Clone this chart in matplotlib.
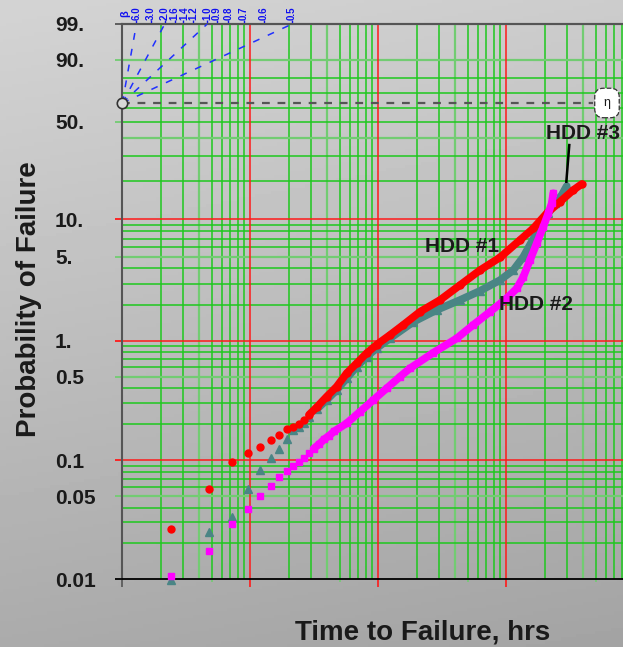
import numpy as np
import matplotlib
matplotlib.use("Agg")
import matplotlib.pyplot as plt
import matplotlib.transforms as mtransforms
from matplotlib.ticker import NullFormatter, NullLocator

plt.rcParams['font.family'] = ['Liberation Sans', 'DejaVu Sans']
plt.rcParams['font.weight'] = 'bold'

# --- data: time to failure (hrs) vs. % failed ---
hdd1_hrs = [24, 48, 72, 96, 120, 144, 168, 192, 216, 240, 264, 288,
            330, 395, 473, 566, 678, 812, 972, 1234, 1568, 2118, 3034, 4347,
            6237, 8930, 12790, 16250, 20680, 26270, 33380, 38820]
hdd1_pct = [0.0267, 0.057, 0.096, 0.114, 0.128, 0.149, 0.162, 0.182, 0.191, 0.201, 0.217, 0.241,
            0.278, 0.341, 0.414, 0.536, 0.65, 0.79, 0.93, 1.12, 1.36, 1.75, 2.19, 2.91,
            3.87, 4.92, 6.82, 8.47, 11.16, 13.76, 16.95, 18.82]

hdd2_hrs = [24, 48, 72, 96, 120, 144, 168, 192, 216, 240, 264, 288,
            312, 344, 378, 414, 453, 566, 719, 914, 1163, 1478, 1769,
            2675, 4098, 5521, 7460, 10070, 12060, 13580, 15310, 17280, 19450,
            21280, 22630, 23280]
hdd2_pct = [0.0107, 0.0173, 0.029, 0.039, 0.050, 0.061, 0.0717, 0.0815, 0.0897, 0.0964, 0.1035, 0.114,
            0.125, 0.136, 0.150, 0.161, 0.175, 0.204, 0.255, 0.320, 0.401, 0.502, 0.590,
            0.793, 1.05, 1.36, 1.75, 2.26, 2.73, 3.41, 4.68, 6.41, 8.73,
            11.16, 13.37, 16.0]

hdd3_hrs = [24, 48, 72, 96, 120, 144, 168, 192, 216, 240, 264, 288,
            330, 395, 473, 566, 678, 812, 972, 1234, 1877, 2859, 4347, 6237,
            8930, 11350, 13580, 15780, 18320, 21280, 23990, 27100, 29650]
hdd3_pct = [0.0099, 0.025, 0.0334, 0.057, 0.083, 0.105, 0.125, 0.151, 0.179, 0.191, 0.207, 0.230,
            0.267, 0.320, 0.388, 0.486, 0.609, 0.739, 0.869, 1.05, 1.44, 1.81, 2.19, 2.61,
            3.20, 3.87, 4.98, 6.60, 8.73, 11.16, 13.37, 15.52, 18.19]

# index where the markers merge into a solid band
dense_start = {'hdd1': 11, 'hdd2': 12, 'hdd3': 12}

ytick_vals = [99, 90, 50, 10, 5, 1, 0.5, 0.1, 0.05, 0.01]
ytick_text = ['99.', '90.', '50.', '10.', '5.', '1.', '0.5', '0.1', '0.05', '0.01']
beta_marks = [6.0, 3.0, 2.0, 1.6, 1.4, 1.2, 1.0, 0.9, 0.8, 0.7, 0.6, 0.5]
beta_lines = [6.0, 2.0, 1.0, 0.5]
# small sideways nudges (points) so the crowded beta labels don't collide
beta_nudge = {1.6: -1.0, 1.4: 1.0}

# --- colours ---
GREEN = '#1ec81e'
LGREEN = '#72cc72'
RED = '#ff1a1a'
BLUE = '#1010f0'
C1, C2, C3 = '#ff0000', '#ff00ff', '#4a8585'
TXT = '#1a1a1a'


# --- Weibull probability scale ---
def weib(p):
    p = np.clip(np.asarray(p, dtype=float) / 100.0, 1e-12, 1 - 1e-12)
    return np.log(-np.log(1 - p))


def weib_inv(u):
    return 100.0 * (1 - np.exp(-np.exp(u)))


W, H = 623, 647
fig = plt.figure(figsize=(W / 100, H / 100), dpi=100)

# grey gradient background
bg = fig.add_axes([0, 0, 1, 1], zorder=0)
yy, xx = np.mgrid[0:1:200j, 0:1:200j]
bg.imshow(0.83 - 0.16 * yy - 0.03 * xx, cmap='gray', vmin=0, vmax=1,
          aspect='auto', extent=[0, 1, 0, 1], origin='upper')
bg.axis('off')

L, R, T, B = 122.3, 623, 24, 579.3
ax = fig.add_axes([L / W, 1 - B / H, (R - L) / W, (B - T) / H], zorder=1)
ax.set_facecolor('none')
ax.set_xscale('log')
ax.set_yscale('function', functions=(weib, weib_inv))
XMAX = 81600
ax.set_xlim(10, XMAX)
ax.set_ylim(0.01, 99)

# --- grid ---
for d in [10, 100, 1000, 10000]:
    if d > 10:
        ax.axvline(d, color=RED, lw=1.1, zorder=1.5)
    for m in range(2, 10):
        if d * m < XMAX:
            light = (m == 4)
            ax.axvline(d * m, color=LGREEN if light else GREEN,
                       lw=1.6 if light else 1.1, zorder=1)

y_green = [0.02, 0.03, 0.04, 0.05, 0.06, 0.07, 0.08, 0.09,
           0.2, 0.3, 0.4, 0.5, 0.6, 0.7, 0.8, 0.9,
           2, 3, 4, 5, 6, 7, 8, 9, 20, 30, 40, 50, 60, 70, 80, 90]
y_light = [0.05, 0.5, 5, 40, 90]
for yv in y_green:
    light = yv in y_light
    ax.axhline(yv, color=LGREEN if light else GREEN, lw=1.6 if light else 1.1, zorder=1)
for yv in [0.1, 1, 10]:
    ax.axhline(yv, color=RED, lw=1.1, zorder=1.5)

# --- spines ---
ax.spines['right'].set_visible(False)
ax.spines['left'].set_color('#555555')
ax.spines['left'].set_linewidth(1.5)
ax.spines['top'].set_color('#555555')
ax.spines['top'].set_linewidth(1.5)
ax.spines['bottom'].set_color('black')
ax.spines['bottom'].set_linewidth(1.3)

# --- y ticks ---
ax.set_yticks(ytick_vals)
ax.set_yticklabels(ytick_text)
ax.yaxis.set_minor_locator(NullLocator())
ax.tick_params(axis='y', length=5, width=1.3, pad=43.5, labelsize=15, labelcolor=TXT)
for lab in ax.get_yticklabels():
    lab.set_horizontalalignment('left')
    lab.set_fontweight('bold')
ycols = ['#555555', LGREEN, LGREEN, RED, LGREEN, RED, LGREEN, RED, LGREEN, 'black']
for tk, c in zip(ax.yaxis.get_major_ticks(), ycols):
    tk.tick1line.set_markeredgecolor(c)

# --- x ticks (no labels) ---
ax.set_xticks([10, 100, 1000, 10000])
ax.set_xticks([50, 500, 5000, 50000], minor=True)
ax.xaxis.set_major_formatter(NullFormatter())
ax.xaxis.set_minor_formatter(NullFormatter())
ax.tick_params(axis='x', which='major', length=5.5, width=1.2)
ax.tick_params(axis='x', which='minor', length=2.5, width=1.2, color=LGREEN)
for tk, c in zip(ax.xaxis.get_major_ticks(), ['#555555', RED, RED, RED]):
    tk.tick1line.set_markeredgecolor(c)

# --- beta scale on top ---
eta = weib_inv(0.0)
u_top = weib(99)
beta_x = [10 * np.exp(u_top / b) for b in beta_marks]
sec = ax.secondary_xaxis('top')
sec.set_xticks(beta_x)
sec.xaxis.set_major_formatter(NullFormatter())
sec.xaxis.set_minor_locator(NullLocator())
sec.tick_params(axis='x', which='major', colors=BLUE, length=3, width=1)
sec.spines['top'].set_color('#555555')
sec.spines['top'].set_linewidth(1.5)
for b, bx in zip(beta_marks, beta_x):
    ax.annotate('%.1f' % b, xy=(bx, 1), xycoords=('data', 'axes fraction'),
                xytext=(beta_nudge.get(b, 0.0), 3), textcoords='offset points',
                rotation=90, ha='center', va='bottom', color=BLUE,
                fontsize=7, fontweight='bold')
ax.text(0.006, 1.012, 'β', transform=ax.transAxes, rotation=90, color=BLUE,
        fontsize=8, fontweight='bold', ha='center', va='bottom')

for b in beta_lines:
    ax.plot([10, 10 * np.exp(u_top / b)], [eta, 99], color='#2030ff', lw=1.1,
            ls=(0, (4.5, 6)), zorder=3, clip_on=False)

# eta reference line, origin circle and box
ax.axhline(eta, xmin=0, xmax=0.94, color='#555555', lw=1.6, ls=(0, (3.5, 3.5)), zorder=3)
ax.plot([10], [eta], 'o', ms=7.5, mfc='#d8d8d8', mec='#333333', mew=1.2,
        zorder=6, clip_on=False)
trans = mtransforms.blended_transform_factory(ax.transAxes, ax.transData)
ax.text(0.968, eta, 'η', transform=trans, ha='center', va='center', fontsize=9,
        fontweight='normal', color=TXT, zorder=6,
        bbox=dict(boxstyle='round,pad=0.7', fc='white', ec='#333333', ls='--', lw=0.9))

# --- series ---
series = [('hdd3', hdd3_hrs, hdd3_pct, C3, '^', 5.5),
          ('hdd1', hdd1_hrs, hdd1_pct, C1, 'o', 5.0),
          ('hdd2', hdd2_hrs, hdd2_pct, C2, 's', 4.8)]
for z, (key, hrs, pct, col, mk, ms) in enumerate(series):
    k = dense_start[key]
    ax.plot(hrs[k:], pct[k:], '-', color=col, lw=5.5, solid_capstyle='round',
            solid_joinstyle='round', zorder=4 + z)
    ax.plot(hrs, pct, mk, color=col, ms=ms, mec=col, ls='none', zorder=4 + z, clip_on=False)

# --- labels ---
ax.text(4550, 6.0, 'HDD #1', fontsize=15, fontweight='bold', color=TXT,
        ha='center', va='center', zorder=8)
ax.text(17150, 2.0, 'HDD #2', fontsize=15, fontweight='bold', color=TXT,
        ha='center', va='center', zorder=8)
ax.text(40000, 42.7, 'HDD #3', fontsize=15, fontweight='bold', color=TXT,
        ha='center', va='center', zorder=8)
ax.plot([31050, 29440], [35.8, 19.6], color='black', lw=1.8, zorder=9)

fig.text(29 / W, 1 - 299 / H, 'Probability of Failure', rotation=90, fontsize=20,
         fontweight='bold', color=TXT, ha='center', va='center')
fig.text(423 / W, 1 - 632 / H, 'Time to Failure, hrs', fontsize=20,
         fontweight='bold', color=TXT, ha='center', va='center')

fig.savefig('out.png', dpi=100)
